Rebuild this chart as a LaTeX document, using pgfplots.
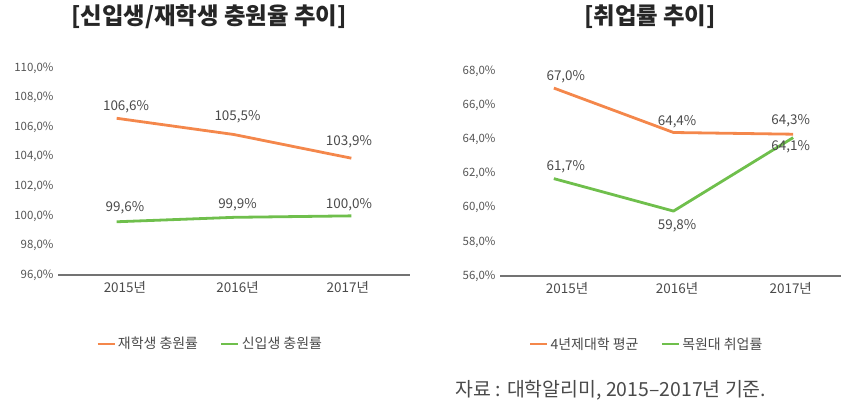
\documentclass[border=0pt]{standalone}
\usepackage{pgfplots}
\pgfplotsset{compat=1.18}
\usepackage{fontspec}
\setmainfont{Noto Sans CJK KR}
\definecolor{orng}{HTML}{F4874B}
\definecolor{grn}{HTML}{6FBF4C}
\definecolor{tk}{HTML}{555555}
\definecolor{lbl}{HTML}{4A4A4A}
\tikzset{ylbl/.style={font=\fontsize{13.5}{15}\selectfont, text=lbl, inner sep=0bp, anchor=center}}
\begin{document}
\begin{tikzpicture}
\path[use as bounding box] (0bp,0bp) rectangle (841bp,412bp);
\pgfplotsset{
  mystyle/.style={
    scale only axis,
    axis y line*=left,
    y axis line style={draw=none},
    axis x line*=bottom,
    x axis line style={draw=black!55, line width=1.2bp, -},
    major tick length=0pt,
    x tick label style={font=\fontsize{13.5}{15}\selectfont, text=lbl, yshift=-3bp},
    y tick label style={font=\fontsize{11.5}{13}\selectfont, text=tk, xshift=-1bp},
    clip=false,
    legend columns=2,
    legend style={draw=none, fill=none, font=\fontsize{14}{16}\selectfont, text=lbl,
      inner sep=0bp,
      /tikz/every even column/.append style={column sep=20bp}},
    legend image code/.code={\draw[line width=2.8bp,##1] (0bp,0bp) -- (17bp,0bp);},
    every axis plot/.append style={line width=2.8bp, line join=round},
  },
}
% left axis
\begin{axis}[mystyle, at={(58bp,137bp)}, anchor=south west, width=352bp, height=207bp,
  xmin=-0.5, xmax=2.5, ymin=96, ymax=110,
  xtick={0.07,1.03,1.97},
  xticklabels={2015년,2016년,2017년},
  ytick={96,98,100,102,104,106,108,110},
  yticklabels={96{,}0\%,98{,}0\%,100{,}0\%,102{,}0\%,104{,}0\%,106{,}0\%,108{,}0\%,110{,}0\%},
  legend style={at={(0.432,-0.333)}, anchor=center}]
\addplot[orng] coordinates {(0,106.6) (1,105.5) (2,103.9)};
\addlegendentry{재학생 충원률}
\addplot[grn] coordinates {(0,99.6) (1,99.9) (2,100.0)};
\addlegendentry{신입생 충원률}
\node[ylbl] at (axis cs:0.08,107.36) {106,6\%};
\node[ylbl] at (axis cs:1.03,106.69) {105,5\%};
\node[ylbl] at (axis cs:1.98,105.0) {103,9\%};
\node[ylbl] at (axis cs:0.07,100.53) {99,6\%};
\node[ylbl] at (axis cs:1.03,100.74) {99,9\%};
\node[ylbl] at (axis cs:1.98,100.74) {100,0\%};
\end{axis}
% right axis
\begin{axis}[mystyle, at={(500bp,136bp)}, anchor=south west, width=341bp, height=205bp,
  xmin=-0.45, xmax=2.4, ymin=56, ymax=68,
  xtick={0.11,1.03,1.98},
  xticklabels={2015년,2016년,2017년},
  ytick={56,58,60,62,64,66,68},
  yticklabels={56{,}0\%,58{,}0\%,60{,}0\%,62{,}0\%,64{,}0\%,66{,}0\%,68{,}0\%},
  legend style={at={(0.43,-0.332)}, anchor=center}]
\addplot[orng] coordinates {(0,67.0) (1,64.4) (2,64.3)};
\addlegendentry{4년제대학 평균}
\addplot[grn] coordinates {(0,61.7) (1,59.8) (2,64.1)};
\addlegendentry{목원대 취업률}
\node[ylbl] at (axis cs:0.1,67.65) {67,0\%};
\node[ylbl] at (axis cs:1.03,65.01) {64,4\%};
\node[ylbl] at (axis cs:1.98,65.07) {64,3\%};
\node[ylbl] at (axis cs:0.1,62.38) {61,7\%};
\node[ylbl] at (axis cs:1.03,58.93) {59,8\%};
\node[ylbl] at (axis cs:1.98,63.55) {64,1\%};
\end{axis}
% titles
\node[font=\fontsize{23.5}{27}\selectfont\bfseries, text=black!85] at (209bp,395bp) {[신입생/재학생 충원율 추이]};
\node[font=\fontsize{23.5}{27}\selectfont\bfseries, text=black!85] at (650bp,395bp) {[취업률 추이]};
\node[font=\fontsize{19.5}{22}\selectfont, text=lbl] at (611bp,22bp) {자료 : 대학알리미, 2015–2017년 기준.};
\end{tikzpicture}
\end{document}
